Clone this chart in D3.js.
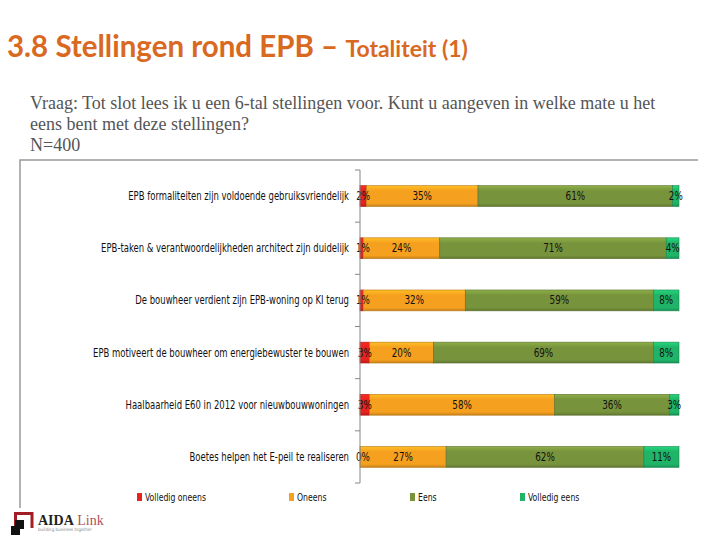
<!DOCTYPE html>
<html><head><meta charset="utf-8">
<script src="https://cdn.jsdelivr.net/npm/d3@7"></script>
<style>body{margin:0;background:#fff}svg{display:block}</style>
</head><body>
<script>
const categories = [
  "EPB formaliteiten zijn voldoende gebruiksvriendelijk",
  "EPB-taken & verantwoordelijkheden architect zijn duidelijk",
  "De bouwheer verdient zijn EPB-woning op KI terug",
  "EPB motiveert de bouwheer om energiebewuster te bouwen",
  "Haalbaarheid E60 in 2012 voor nieuwbouwwoningen",
  "Boetes helpen het E-peil te realiseren"
];
const seriesNames = ["Volledig oneens","Oneens","Eens","Volledig eens"];
const volledigOneens = [2,1,1,3,3,0];
const oneens = [35,24,32,20,58,27];
const eens = [61,71,59,69,36,62];
const volledigEens = [2,4,8,8,3,11];
const colors = ["#E8221E","#F5A01F","#77933C","#1FB468"];

const W=720,H=540;
const svg=d3.select("body").append("svg").attr("width",W).attr("height",H);
const defs=svg.append("defs");
colors.forEach((c,i)=>{
  const g=defs.append("linearGradient").attr("id","g"+i).attr("x1",0).attr("y1",0).attr("x2",0).attr("y2",1);
  g.append("stop").attr("offset","0%").attr("stop-color",d3.color(c).brighter(0.5));
  g.append("stop").attr("offset","25%").attr("stop-color",c);
  g.append("stop").attr("offset","85%").attr("stop-color",c);
  g.append("stop").attr("offset","100%").attr("stop-color",d3.color(c).darker(0.6));
});
const K=0.82; // horizontal condensation of the chart font

// Title
const t=svg.append("text").attr("x",7).attr("y",57).attr("fill","#D9691F")
  .attr("font-family","Lato, 'Open Sans', sans-serif").attr("font-weight","bold");
t.append("tspan").attr("font-size",29.5).text("3.8 Stellingen rond EPB – ");
t.append("tspan").attr("font-size",23).text("Totaliteit (1)");

// Question
const q=["Vraag: Tot slot lees ik u een 6-tal stellingen voor. Kunt u aangeven in welke mate u het","eens bent met deze stellingen?","N=400"];
svg.selectAll("text.q").data(q).join("text").attr("class","q")
  .attr("x",30).attr("y",(d,i)=>109+i*21).attr("fill","#555")
  .attr("font-family","'Liberation Serif','Times New Roman',serif").attr("font-size",18).text(d=>d);

// frame lines
svg.append("path").attr("d","M20,508V160H698").attr("fill","none").attr("stroke","#999").attr("stroke-width",1.5);

const x=d3.scaleLinear().domain([0,100]).range([360,679]);
const y=d3.scaleBand().domain(categories).range([170,483]).paddingInner(0.6).paddingOuter(0.3);

const data=categories.map((c,i)=>({cat:c,"Volledig oneens":volledigOneens[i],"Oneens":oneens[i],"Eens":eens[i],"Volledig eens":volledigEens[i]}));
const stack=d3.stack().keys(seriesNames)(data);

const lblFont="'DejaVu Sans Condensed','Liberation Sans Narrow',sans-serif";
stack.forEach((s,si)=>{
  svg.append("g").selectAll("rect").data(s).join("rect")
    .attr("x",d=>x(d[0])).attr("y",d=>y(d.data.cat))
    .attr("width",d=>x(d[1])-x(d[0])).attr("height",y.bandwidth())
    .attr("fill","url(#g"+si+")").attr("stroke",d3.color(colors[si]).darker(0.8)).attr("stroke-width",0.6);
});
stack.forEach((s,si)=>{
  svg.append("g").selectAll("text").data(s).join("text")
    .attr("transform",d=>`translate(${Math.max(x((d[0]+d[1])/2),363)},${y(d.data.cat)+y.bandwidth()/2+4}) scale(0.85,1)`)
    .attr("text-anchor","middle").attr("font-family",lblFont).attr("font-size",11.5).attr("fill","#111")
    .text(d=>(d[1]-d[0])+"%");
});

// axis
const ax=svg.append("g").attr("transform","translate(360,0)");
ax.append("line").attr("y1",170).attr("y2",483).attr("stroke","#888");
const bounds=d3.range(categories.length+1).map(i=>170+i*(313/categories.length));
ax.selectAll("line.tk").data(bounds).join("line").attr("class","tk").attr("x1",-5).attr("x2",0)
  .attr("y1",d=>d).attr("y2",d=>d).attr("stroke","#888");

// category labels
svg.append("g").selectAll("text").data(categories).join("text")
  .attr("transform",d=>`translate(349,${y(d)+y.bandwidth()/2+4}) scale(${K},1)`).attr("text-anchor","end")
  .attr("font-family",lblFont).attr("font-size",11.5).attr("fill","#111").text(d=>d);

// legend
const lx=[137,289,410,520];
const lg=svg.append("g").selectAll("g").data(seriesNames).join("g").attr("transform",(d,i)=>`translate(${lx[i]},493)`);
lg.append("rect").attr("width",5).attr("height",8).attr("fill",(d,i)=>colors[i]);
lg.append("text").attr("transform",`translate(8,8) scale(${K},1)`).attr("font-family",lblFont).attr("font-size",10.5).attr("fill","#111").text(d=>d);

// logo
const lo=svg.append("g");
lo.append("path").attr("d","M15.5,528V513.5H32V528").attr("fill","none").attr("stroke","#A21E24").attr("stroke-width",3);
lo.append("rect").attr("x",15).attr("y",520).attr("width",10).attr("height",10).attr("fill","#fff");
lo.append("rect").attr("x",15).attr("y",520).attr("width",9).attr("height",9).attr("fill","#111");
lo.append("rect").attr("x",10).attr("y",526).attr("width",10).attr("height",10).attr("fill","#fff");
lo.append("rect").attr("x",11).attr("y",526).attr("width",9).attr("height",9).attr("fill","#111");
const lt=lo.append("text").attr("x",38).attr("y",525).attr("font-family","'Liberation Serif',serif").attr("font-size",14);
lt.append("tspan").attr("fill","#222").attr("font-weight","bold").text("AIDA");
lt.append("tspan").attr("fill","#B2505A").text(" Link");
lo.append("text").attr("x",38).attr("y",531).attr("font-family",lblFont).attr("font-size",4.5).attr("fill","#888").text("building business together");
</script>
</body></html>
